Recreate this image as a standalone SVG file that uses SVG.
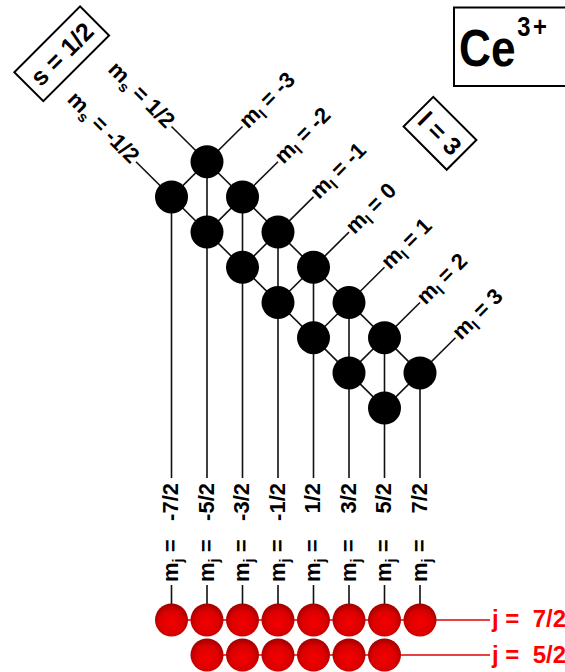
<svg xmlns="http://www.w3.org/2000/svg" width="565" height="672" viewBox="0 0 565 672">
  <defs>
    <radialGradient id="redBall" cx="50%" cy="58%" r="55%">
      <stop offset="0" stop-color="#f40000"/>
      <stop offset="0.65" stop-color="#dc0000"/>
      <stop offset="1" stop-color="#a80000"/>
    </radialGradient>
    <style>
      .t { font-family: "Liberation Sans", Arial, sans-serif; font-weight: bold; fill: #000; }
      .lbl { font-size: 22px; }
      .sub { font-size: 15px; }
      .box { fill: none; stroke: #000; stroke-width: 2; }
      .conn { stroke: #111; stroke-width: 1.6; fill: none; }
      .red { stroke: #e00000; stroke-width: 1.6; fill: none; }
      .ball { fill: #000; }
      .rball { fill: url(#redBall); }
      .rt { font-family: "Liberation Sans", Arial, sans-serif; font-weight: bold; font-size: 24px; fill: #ff0000; }
    </style>
  </defs>
  <rect width="565" height="672" fill="#fff"/>

  <!-- Connectors -->
  <g id="connectors" class="conn">
    <!-- m_s rows -->
    <path d="M171.5,126.5 L420,372.9"/>
    <path d="M136,161.7 L384.5,408.1"/>
    <!-- m_l pairs -->
    <path d="M171.5,196.9 L242.5,126.5"/>
    <path d="M207,232.1 L278,161.7"/>
    <path d="M242.5,267.3 L313.5,196.9"/>
    <path d="M278,302.5 L349,232.1"/>
    <path d="M313.5,337.7 L384.5,267.3"/>
    <path d="M349,372.9 L420,302.5"/>
    <path d="M384.5,408.1 L455.5,337.7"/>
    <!-- m_j columns -->
    <path d="M171.5,196.9 V478 M171.5,585 V604"/>
    <path d="M207,161.7 V478 M207,585 V604"/>
    <path d="M242.5,196.9 V478 M242.5,585 V604"/>
    <path d="M278,232.1 V478 M278,585 V604"/>
    <path d="M313.5,267.3 V478 M313.5,585 V604"/>
    <path d="M349,302.5 V478 M349,585 V604"/>
    <path d="M384.5,337.7 V478 M384.5,585 V604"/>
    <path d="M420,372.9 V478 M420,585 V604"/>
    <!-- j levels -->
    <path class="red" d="M171.5,620 H490"/>
    <path class="red" d="M207,655 H490"/>
  </g>

  <!-- Ion label -->
  <g id="ion">
    <rect class="box" x="454" y="7.5" width="120" height="78.5"/>
    <text class="t" transform="translate(459,66) scale(0.85,1)" font-size="52">Ce<tspan font-size="28" dx="2" dy="-30" letter-spacing="3">3+</tspan></text>
  </g>

  <!-- Spin quantum number -->
  <g id="spin" transform="translate(61.7,53.8) rotate(-45)">
    <rect class="box" x="-46.5" y="-20.5" width="93" height="41"/>
    <text class="t" x="0" y="0" dy="0.36em" font-size="25" text-anchor="middle">s = 1/2</text>
  </g>

  <!-- Orbital quantum number -->
  <g id="orbital" transform="translate(440,133.3) rotate(45)">
    <rect class="box" x="-30.5" y="-21" width="61" height="42"/>
    <text class="t" x="0" y="0" dy="0.36em" font-size="25" text-anchor="middle">l = 3</text>
  </g>

  <!-- m_s labels -->
  <g id="ms-labels" class="t lbl">
    <text transform="translate(166,129.5) rotate(45)" text-anchor="end">m<tspan class="sub" dy="5">s</tspan><tspan dy="-5"> = 1/2</tspan></text>
    <text transform="translate(130.5,164.7) rotate(45)" text-anchor="end">m<tspan class="sub" dy="5">s</tspan><tspan dy="-5"> = -1/2</tspan></text>
  </g>

  <!-- m_l labels -->
  <g id="ml-labels" class="t lbl">
    <text transform="translate(248,129.5) rotate(-45)">m<tspan class="sub" dy="5">l</tspan><tspan dy="-5"> = -3</tspan></text>
    <text transform="translate(283.5,164.7) rotate(-45)">m<tspan class="sub" dy="5">l</tspan><tspan dy="-5"> = -2</tspan></text>
    <text transform="translate(319,199.9) rotate(-45)">m<tspan class="sub" dy="5">l</tspan><tspan dy="-5"> = -1</tspan></text>
    <text transform="translate(354.5,235.1) rotate(-45)">m<tspan class="sub" dy="5">l</tspan><tspan dy="-5"> = 0</tspan></text>
    <text transform="translate(390,270.3) rotate(-45)">m<tspan class="sub" dy="5">l</tspan><tspan dy="-5"> = 1</tspan></text>
    <text transform="translate(425.5,305.5) rotate(-45)">m<tspan class="sub" dy="5">l</tspan><tspan dy="-5"> = 2</tspan></text>
    <text transform="translate(461,340.7) rotate(-45)">m<tspan class="sub" dy="5">l</tspan><tspan dy="-5"> = 3</tspan></text>
  </g>

  <!-- m_s = +1/2 states -->
  <g id="up-states">
    <circle id="u-3" class="ball" cx="207" cy="161.7" r="16.5"/>
    <circle id="u-2" class="ball" cx="242.5" cy="196.9" r="16.5"/>
    <circle id="u-1" class="ball" cx="278" cy="232.1" r="16.5"/>
    <circle id="u0" class="ball" cx="313.5" cy="267.3" r="16.5"/>
    <circle id="u1" class="ball" cx="349" cy="302.5" r="16.5"/>
    <circle id="u2" class="ball" cx="384.5" cy="337.7" r="16.5"/>
    <circle id="u3" class="ball" cx="420" cy="372.9" r="16.5"/>
  </g>
  <!-- m_s = -1/2 states -->
  <g id="down-states">
    <circle id="d-3" class="ball" cx="171.5" cy="196.9" r="16.5"/>
    <circle id="d-2" class="ball" cx="207" cy="232.1" r="16.5"/>
    <circle id="d-1" class="ball" cx="242.5" cy="267.3" r="16.5"/>
    <circle id="d0" class="ball" cx="278" cy="302.5" r="16.5"/>
    <circle id="d1" class="ball" cx="313.5" cy="337.7" r="16.5"/>
    <circle id="d2" class="ball" cx="349" cy="372.9" r="16.5"/>
    <circle id="d3" class="ball" cx="384.5" cy="408.1" r="16.5"/>
  </g>

  <!-- m_j labels (reading upwards) -->
  <g id="mj-labels" class="t lbl">
    <text transform="translate(178,582) rotate(-90)">m<tspan class="sub" dy="5">j</tspan><tspan dy="-5"> =</tspan></text>
    <text transform="translate(178,483) rotate(-90)" text-anchor="end">-7/2</text>
    <text transform="translate(213.5,582) rotate(-90)">m<tspan class="sub" dy="5">j</tspan><tspan dy="-5"> =</tspan></text>
    <text transform="translate(213.5,483) rotate(-90)" text-anchor="end">-5/2</text>
    <text transform="translate(249,582) rotate(-90)">m<tspan class="sub" dy="5">j</tspan><tspan dy="-5"> =</tspan></text>
    <text transform="translate(249,483) rotate(-90)" text-anchor="end">-3/2</text>
    <text transform="translate(284.5,582) rotate(-90)">m<tspan class="sub" dy="5">j</tspan><tspan dy="-5"> =</tspan></text>
    <text transform="translate(284.5,483) rotate(-90)" text-anchor="end">-1/2</text>
    <text transform="translate(320,582) rotate(-90)">m<tspan class="sub" dy="5">j</tspan><tspan dy="-5"> =</tspan></text>
    <text transform="translate(320,483) rotate(-90)" text-anchor="end">1/2</text>
    <text transform="translate(355.5,582) rotate(-90)">m<tspan class="sub" dy="5">j</tspan><tspan dy="-5"> =</tspan></text>
    <text transform="translate(355.5,483) rotate(-90)" text-anchor="end">3/2</text>
    <text transform="translate(391,582) rotate(-90)">m<tspan class="sub" dy="5">j</tspan><tspan dy="-5"> =</tspan></text>
    <text transform="translate(391,483) rotate(-90)" text-anchor="end">5/2</text>
    <text transform="translate(426.5,582) rotate(-90)">m<tspan class="sub" dy="5">j</tspan><tspan dy="-5"> =</tspan></text>
    <text transform="translate(426.5,483) rotate(-90)" text-anchor="end">7/2</text>
  </g>

  <!-- j = 7/2 multiplet -->
  <g id="j72">
    <circle class="rball" cx="171.5" cy="620" r="16.5"/>
    <circle class="rball" cx="207" cy="620" r="16.5"/>
    <circle class="rball" cx="242.5" cy="620" r="16.5"/>
    <circle class="rball" cx="278" cy="620" r="16.5"/>
    <circle class="rball" cx="313.5" cy="620" r="16.5"/>
    <circle class="rball" cx="349" cy="620" r="16.5"/>
    <circle class="rball" cx="384.5" cy="620" r="16.5"/>
    <circle class="rball" cx="420" cy="620" r="16.5"/>
    <text class="rt" x="492" y="627">j =&#160; 7/2</text>
  </g>

  <!-- j = 5/2 multiplet -->
  <g id="j52">
    <circle class="rball" cx="207" cy="655" r="16.5"/>
    <circle class="rball" cx="242.5" cy="655" r="16.5"/>
    <circle class="rball" cx="278" cy="655" r="16.5"/>
    <circle class="rball" cx="313.5" cy="655" r="16.5"/>
    <circle class="rball" cx="349" cy="655" r="16.5"/>
    <circle class="rball" cx="384.5" cy="655" r="16.5"/>
    <text class="rt" x="492" y="663">j =&#160; 5/2</text>
  </g>
</svg>
